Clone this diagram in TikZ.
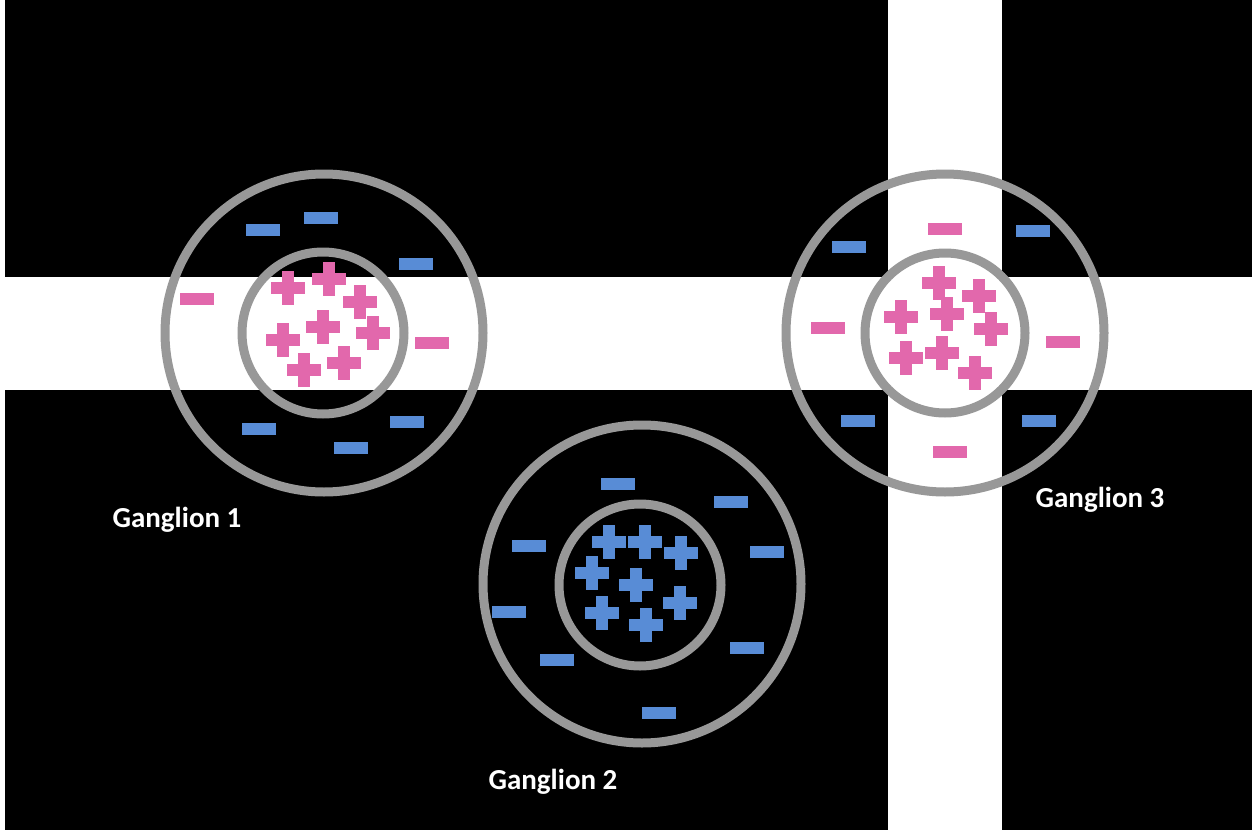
\documentclass[tikz,border=0pt]{standalone}
\usepackage{fontspec}
\setmainfont{Carlito}
\begin{document}
\begin{tikzpicture}[x=1pt,y=-1pt,
  ring/.style={draw=ringgray,line width=9pt},
  lbl/.style={text=white,font=\bfseries\fontsize{29}{32}\selectfont,inner sep=0pt}]
\definecolor{ringgray}{RGB}{152,152,152}
\definecolor{pk}{RGB}{226,104,172}
\definecolor{bl}{RGB}{88,140,214}
\newcommand\pl[3]{\fill[#1] (#2-17,#3-6) rectangle (#2+17,#3+6); \fill[#1] (#2-6,#3-17) rectangle (#2+6,#3+17);}
\newcommand\mn[3]{\fill[#1] (#2-17,#3-6) rectangle (#2+17,#3+6);}
\useasboundingbox (0,0) rectangle (1256,835);
\fill[white] (0,0) rectangle (1256,835);
\fill[black] (5,0) rectangle (1252,830);
\fill[white] (5,277) rectangle (1252,390);
\fill[white] (888,0) rectangle (1002,830);
% Ganglion 1
\node[ring,circle,minimum size=318pt] (g1o) at (324,333) {};
\node[ring,circle,minimum size=162pt] (g1i) at (323,333) {};
\pl{pk}{288}{288}\pl{pk}{329}{279}\pl{pk}{360}{302}\pl{pk}{323}{327}
\pl{pk}{373}{333}\pl{pk}{283}{340}\pl{pk}{344}{363}\pl{pk}{304}{370}
\mn{bl}{263}{230}\mn{bl}{321}{218}\mn{bl}{416}{264}\mn{pk}{197}{299}
\mn{pk}{432}{343}\mn{bl}{259}{429}\mn{bl}{407}{422}\mn{bl}{351}{448}
% Ganglion 2
\node[ring,circle,minimum size=318pt] (g2o) at (642,584) {};
\node[ring,circle,minimum size=162pt] (g2i) at (640,585) {};
\pl{bl}{609}{542}\pl{bl}{645}{542}\pl{bl}{681}{553}\pl{bl}{592}{573}
\pl{bl}{636}{585}\pl{bl}{680}{603}\pl{bl}{602}{613}\pl{bl}{646}{625}
\mn{bl}{618}{484}\mn{bl}{731}{502}\mn{bl}{529}{546}\mn{bl}{767}{552}
\mn{bl}{509}{612}\mn{bl}{557}{660}\mn{bl}{747}{648}\mn{bl}{659}{713}
% Ganglion 3
\node[ring,circle,minimum size=318pt] (g3o) at (945,333) {};
\node[ring,circle,minimum size=160pt] (g3i) at (945,333) {};
\pl{pk}{939}{283}\pl{pk}{979}{296}\pl{pk}{901}{317}\pl{pk}{947}{314}
\pl{pk}{991}{329}\pl{pk}{906}{358}\pl{pk}{942}{353}\pl{pk}{975}{373}
\mn{pk}{945}{229}\mn{pk}{828}{328}\mn{pk}{1063}{342}\mn{pk}{950}{452}
\mn{bl}{849}{247}\mn{bl}{1033}{231}\mn{bl}{858}{421}\mn{bl}{1039}{421}
% labels
\node[lbl] (l1) at (177,520) {Ganglion 1};
\node[lbl] (l2) at (553,782) {Ganglion 2};
\node[lbl] (l3) at (1100,500) {Ganglion 3};
\end{tikzpicture}
\end{document}
